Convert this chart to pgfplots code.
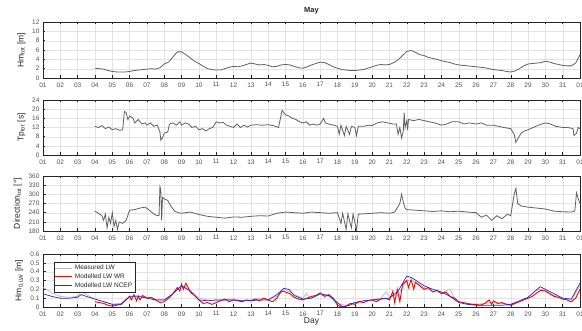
\documentclass[border=0pt]{standalone}
\usepackage{pgfplots}
\pgfplotsset{compat=1.18}
\usepackage{fontspec}
\setmainfont{Liberation Sans}
\definecolor{axcol}{rgb}{0.15,0.15,0.15}
\definecolor{sercol}{rgb}{0.38,0.38,0.38}
\definecolor{meascol}{rgb}{0.72,0.72,0.72}
\definecolor{wrcol}{rgb}{1,0,0}
\definecolor{ncepcol}{rgb}{0.15,0.15,0.85}
\pgfplotsset{
  panel/.style={
    scale only axis, width=537pt, anchor=south west,
    xmin=1, xmax=32, xtick={1,...,32},
    xticklabels={01,02,03,04,05,06,07,08,09,10,11,12,13,14,15,16,17,18,19,20,21,22,23,24,25,26,27,28,29,30,31,01},
    grid=major, major grid style={gray!22, line width=0.3pt},
    tick align=inside, xtick pos=both, ytick pos=left,
    axis line style={axcol, line width=0.4pt},
    tick style={axcol, line width=0.4pt}, major tick length=2.5pt,
    ticklabel style={font=\fontsize{6.5}{7}\selectfont, text=axcol!80},
    /pgf/number format/assume math mode=true,
    ylabel style={font=\fontsize{8.5}{9}\selectfont, text=axcol, at={(ticklabel cs:0.5)}, anchor=south},
    xticklabel style={yshift=-1pt},
  }
}
\begin{document}
\begin{tikzpicture}
\path[use as bounding box] (0,0) rectangle (582pt,331pt);
% Panel 1
\begin{axis}[panel, at={(43pt,253pt)}, height=56pt, ymin=0, ymax=12, ytick={0,2,...,12},
  ylabel={Hm\textsubscript{tot} [m]},
  title={\textbf{May}}, title style={font=\fontsize{7.5}{8}\selectfont, text=axcol, yshift=-2pt}]
\addplot[sercol, line width=0.8pt] coordinates {
(4.0,2.1)(4.25,2.0)(4.5,1.9)(4.75,1.6)(5.0,1.4)(5.25,1.3)(5.5,1.3)(5.75,1.3)(6.0,1.4)(6.25,1.6)(6.5,1.7)(6.75,1.8)(7.0,1.9)(7.25,2.0)(7.5,1.9)(7.75,2.2)(8.0,3.0)(8.25,3.4)(8.5,4.5)(8.75,5.6)(9.0,5.6)(9.25,5.0)(9.5,4.3)(9.75,3.6)(10.0,3.1)(10.25,2.5)(10.5,2.0)(10.75,1.8)(11.0,1.7)(11.25,1.7)(11.5,2.0)(11.75,2.3)(12.0,2.5)(12.25,2.4)(12.5,2.6)(12.75,2.9)(13.0,3.2)(13.25,3.0)(13.5,2.8)(13.75,2.9)(14.0,2.7)(14.25,2.4)(14.5,2.5)(14.75,2.8)(15.0,2.9)(15.25,2.8)(15.5,2.5)(15.75,2.2)(16.0,2.1)(16.25,2.4)(16.5,2.8)(16.75,3.1)(17.0,3.4)(17.25,3.3)(17.5,2.9)(17.75,2.4)(18.0,2.1)(18.25,1.8)(18.5,1.7)(18.75,1.6)(19.0,1.6)(19.25,1.7)(19.5,1.8)(19.75,2.1)(20.0,2.4)(20.25,2.7)(20.5,2.9)(20.75,2.8)(21.0,2.9)(21.25,3.3)(21.5,3.9)(21.75,4.8)(22.0,5.7)(22.25,5.9)(22.5,5.5)(22.75,5.0)(23.0,4.8)(23.25,4.4)(23.5,4.2)(23.75,4.0)(24.0,3.7)(24.25,3.5)(24.5,3.3)(24.75,3.0)(25.0,2.8)(25.25,2.7)(25.5,2.6)(25.75,2.5)(26.0,2.4)(26.25,2.3)(26.5,2.2)(26.75,2.0)(27.0,1.8)(27.25,1.7)(27.5,1.6)(27.75,1.4)(28.0,1.3)(28.25,1.5)(28.5,2.0)(28.75,2.6)(29.0,3.0)(29.25,3.1)(29.5,3.2)(29.75,3.3)(30.0,3.6)(30.25,3.4)(30.5,3.1)(30.75,2.9)(31.0,2.7)(31.25,2.6)(31.5,2.6)(31.75,3.2)(32.0,5.0)
};
\end{axis}
% Panel 2
\begin{axis}[panel, at={(43pt,176pt)}, height=55pt, ymin=0, ymax=24, ytick={0,4,...,24},
  ylabel={Tp\textsubscript{tot} [s]}]
\addplot[sercol, line width=0.8pt] coordinates {
(4.0,12.5)(4.2,12.0)(4.4,12.8)(4.6,11.5)(4.8,12.2)(5.0,11.0)(5.2,11.5)(5.4,10.8)(5.6,11.0)(5.7,19.0)(5.8,18.5)(5.9,15.5)(6.0,17.0)(6.2,16.0)(6.3,14.0)(6.5,15.5)(6.7,13.5)(6.9,14.0)(7.0,13.0)(7.2,14.0)(7.4,12.5)(7.6,13.0)(7.75,10.0)(7.8,6.5)(7.9,7.5)(8.0,9.5)(8.2,10.0)(8.3,13.5)(8.5,14.0)(8.7,13.0)(8.9,14.5)(9.0,13.0)(9.2,14.0)(9.4,13.5)(9.6,12.0)(9.8,12.5)(10.0,11.0)(10.2,11.5)(10.4,10.5)(10.6,11.5)(10.8,12.0)(11.0,14.5)(11.2,14.0)(11.4,14.2)(11.6,13.0)(11.8,12.5)(12.0,12.0)(12.2,13.5)(12.4,12.0)(12.6,13.0)(12.8,12.2)(13.0,13.0)(13.3,13.2)(13.6,13.0)(14.0,13.2)(14.3,12.8)(14.6,12.0)(14.8,19.5)(14.9,18.5)(15.0,17.5)(15.2,17.0)(15.4,16.0)(15.6,15.5)(15.8,14.5)(16.0,14.0)(16.2,14.5)(16.4,13.0)(16.6,13.5)(16.8,13.0)(17.0,13.5)(17.2,16.0)(17.3,14.0)(17.5,13.5)(17.8,13.0)(18.0,12.5)(18.1,9.0)(18.2,13.0)(18.4,8.5)(18.5,12.5)(18.7,9.0)(18.8,12.5)(19.0,12.0)(19.1,8.5)(19.2,12.5)(19.5,12.5)(19.8,13.0)(20.0,12.8)(20.3,14.0)(20.6,14.5)(20.9,14.0)(21.2,13.5)(21.4,13.5)(21.5,9.0)(21.6,12.0)(21.7,7.5)(21.8,10.5)(21.85,18.5)(21.9,12.0)(22.0,15.0)(22.05,11.0)(22.1,15.5)(22.4,15.0)(22.7,15.5)(23.0,15.0)(23.3,14.5)(23.6,14.0)(24.0,13.0)(24.3,13.5)(24.6,14.5)(25.0,14.5)(25.3,13.5)(25.6,14.0)(26.0,13.5)(26.3,14.0)(26.6,13.0)(27.0,13.0)(27.3,12.5)(27.6,12.0)(28.0,11.5)(28.2,9.0)(28.3,5.5)(28.4,7.0)(28.6,9.5)(28.8,10.5)(29.0,11.0)(29.3,12.0)(29.6,13.0)(30.0,14.0)(30.3,13.5)(30.6,12.5)(31.0,12.0)(31.3,12.0)(31.6,11.5)(31.65,8.5)(31.8,9.5)(31.9,12.0)(32.0,11.5)
};
\end{axis}
% Panel 3
\begin{axis}[panel, at={(43pt,100pt)}, height=55pt, ymin=180, ymax=360, ytick={180,210,...,360},
  ylabel={Direction\textsubscript{tot} [°]}]
\addplot[sercol, line width=0.8pt] coordinates {
(4.0,245)(4.2,238)(4.4,230)(4.5,215)(4.6,235)(4.7,190)(4.8,225)(4.9,205)(5.0,240)(5.1,195)(5.2,215)(5.3,185)(5.4,210)(5.6,205)(5.8,215)(6.0,248)(6.3,250)(6.6,255)(6.9,258)(7.1,250)(7.3,240)(7.5,232)(7.7,230)(7.75,325)(7.8,315)(7.85,215)(7.9,290)(8.0,285)(8.2,280)(8.4,260)(8.6,245)(8.8,240)(9.0,238)(9.5,242)(10.0,234)(10.5,228)(11.0,225)(11.5,222)(12.0,226)(12.5,225)(13.0,228)(13.5,230)(14.0,229)(14.5,238)(15.0,242)(15.5,240)(16.0,238)(16.5,242)(17.0,240)(17.5,238)(18.0,240)(18.2,205)(18.3,238)(18.5,185)(18.6,236)(18.8,190)(18.9,236)(19.1,182)(19.2,235)(19.5,236)(20.0,238)(20.5,240)(21.0,238)(21.3,242)(21.6,270)(21.7,300)(21.8,275)(21.9,255)(22.0,250)(22.5,248)(23.0,246)(23.5,244)(24.0,246)(24.5,243)(25.0,245)(25.5,242)(26.0,240)(26.3,225)(26.6,232)(26.9,215)(27.2,230)(27.5,220)(27.8,235)(28.0,230)(28.2,300)(28.3,320)(28.4,270)(28.6,262)(29.0,258)(29.5,255)(30.0,252)(30.5,245)(31.0,243)(31.5,242)(31.7,245)(31.8,305)(31.9,285)(32.0,270)
};
\end{axis}
% Panel 4
\begin{axis}[panel, at={(43pt,24pt)}, height=53pt, ymin=0, ymax=0.6, ytick={0,0.1,...,0.6},
  yticklabel style={/pgf/number format/fixed, /pgf/number format/precision=1},
  ylabel={Hm\textsubscript{0,LW} [m]},
  xlabel={Day}, xlabel style={font=\fontsize{8.5}{9}\selectfont, text=axcol, yshift=5pt},
  legend style={at={(0.02,0.85)}, anchor=north west, font=\fontsize{6.5}{7}\selectfont, draw=axcol, line width=0.3pt, inner sep=1pt, row sep=-1.5pt, text=axcol},
  legend cell align=left]
\addplot[meascol, line width=0.7pt] coordinates {
(1.0,0.22)(1.2,0.2)(1.5,0.16)(2.0,0.12)(2.5,0.11)(3.0,0.12)(3.2,0.18)(3.5,0.14)(4.0,0.09)(4.5,0.06)(5.0,0.03)(5.5,0.04)(6.0,0.12)(6.5,0.13)(7.0,0.11)(7.5,0.09)(8.0,0.08)(8.5,0.15)(9.0,0.25)(9.5,0.19)(10.0,0.1)(10.5,0.08)(11.0,0.07)(11.5,0.08)(12.0,0.09)(12.5,0.07)(13.0,0.08)(13.5,0.1)(14.0,0.08)(14.5,0.12)(15.0,0.2)(15.5,0.14)(16.0,0.1)(16.2,0.15)(16.4,0.1)(17.0,0.14)(17.5,0.12)(18.0,0.04)(18.5,0.02)(19.0,0.05)(19.5,0.07)(20.0,0.08)(20.5,0.1)(20.8,0.17)(21.0,0.11)(21.5,0.14)(22.0,0.3)(22.3,0.3)(23.0,0.22)(23.5,0.18)(24.0,0.16)(24.5,0.2)(24.7,0.12)(25.0,0.06)(25.5,0.04)(26.0,0.03)(26.5,0.04)(27.0,0.05)(27.5,0.04)(28.0,0.03)(28.5,0.06)(29.0,0.1)(29.5,0.2)(30.0,0.19)(30.5,0.13)(31.0,0.09)(31.5,0.08)(32.0,0.24)
};
\addlegendentry{Measured LW}
\addplot[wrcol, line width=0.9pt] coordinates {
(4.0,0.06)(4.25,0.05)(4.5,0.04)(4.75,0.02)(5.0,0.01)(5.25,0.02)(5.5,0.03)(5.75,0.07)(6.0,0.12)(6.1,0.08)(6.25,0.14)(6.4,0.07)(6.5,0.12)(6.6,0.08)(6.75,0.13)(7.0,0.1)(7.25,0.11)(7.5,0.08)(7.75,0.05)(8.0,0.06)(8.25,0.1)(8.5,0.15)(8.75,0.22)(8.9,0.18)(9.0,0.26)(9.1,0.2)(9.25,0.27)(9.5,0.17)(9.75,0.13)(10.0,0.08)(10.25,0.04)(10.5,0.05)(10.75,0.03)(11.0,0.05)(11.25,0.07)(11.5,0.09)(11.75,0.06)(12.0,0.08)(12.25,0.07)(12.5,0.06)(12.75,0.08)(13.0,0.07)(13.25,0.09)(13.5,0.07)(13.75,0.1)(14.0,0.08)(14.25,0.06)(14.5,0.1)(14.75,0.18)(15.0,0.17)(15.25,0.15)(15.5,0.11)(15.75,0.09)(16.0,0.08)(16.25,0.1)(16.5,0.12)(16.75,0.13)(17.0,0.16)(17.25,0.12)(17.5,0.14)(17.75,0.1)(18.0,0.02)(18.25,0.0)(18.5,0.01)(18.75,0.04)(19.0,0.03)(19.25,0.06)(19.5,0.05)(19.75,0.07)(20.0,0.08)(20.25,0.06)(20.5,0.09)(20.75,0.1)(21.0,0.08)(21.2,0.18)(21.3,0.05)(21.45,0.2)(21.6,0.06)(21.75,0.25)(22.0,0.3)(22.1,0.22)(22.25,0.31)(22.4,0.2)(22.5,0.28)(22.75,0.24)(23.0,0.2)(23.25,0.22)(23.5,0.17)(23.75,0.19)(24.0,0.15)(24.25,0.17)(24.5,0.12)(24.75,0.1)(25.0,0.06)(25.25,0.05)(25.5,0.04)(25.75,0.03)(26.0,0.03)(26.25,0.02)(26.5,0.04)(26.75,0.08)(26.9,0.03)(27.0,0.07)(27.25,0.04)(27.5,0.05)(27.75,0.03)(28.0,0.02)(28.25,0.04)(28.5,0.06)(28.75,0.08)(29.0,0.1)(29.25,0.12)(29.5,0.16)(29.75,0.19)(30.0,0.18)(30.25,0.15)(30.5,0.12)(30.75,0.11)(31.0,0.09)(31.25,0.08)(31.5,0.06)(31.75,0.1)(32.0,0.2)
};
\addlegendentry{Modelled LW WR}
\addplot[ncepcol, line width=0.7pt] coordinates {
(1.0,0.15)(1.5,0.12)(2.0,0.1)(2.5,0.1)(3.0,0.11)(3.2,0.14)(3.5,0.12)(4.0,0.09)(4.5,0.06)(5.0,0.03)(5.5,0.03)(6.0,0.12)(6.5,0.12)(7.0,0.1)(7.5,0.08)(8.0,0.08)(8.5,0.15)(9.0,0.24)(9.5,0.18)(10.0,0.08)(10.5,0.07)(11.0,0.08)(11.5,0.08)(12.0,0.08)(12.5,0.07)(13.0,0.07)(13.5,0.08)(14.0,0.08)(14.5,0.14)(14.9,0.21)(15.2,0.2)(15.5,0.13)(16.0,0.09)(16.5,0.1)(17.0,0.15)(17.5,0.13)(18.0,0.05)(18.3,0.0)(18.7,0.02)(19.0,0.05)(19.5,0.07)(20.0,0.08)(20.5,0.09)(21.0,0.1)(21.5,0.18)(22.0,0.35)(22.3,0.33)(23.0,0.24)(23.5,0.2)(24.0,0.17)(24.5,0.12)(25.0,0.05)(25.5,0.03)(26.0,0.02)(26.5,0.02)(27.0,0.02)(27.5,0.02)(28.0,0.03)(28.5,0.07)(29.0,0.11)(29.7,0.23)(30.0,0.2)(30.5,0.15)(31.0,0.1)(31.5,0.09)(32.0,0.27)
};
\addlegendentry{Modelled LW NCEP}
\end{axis}
\end{tikzpicture}
\end{document}
